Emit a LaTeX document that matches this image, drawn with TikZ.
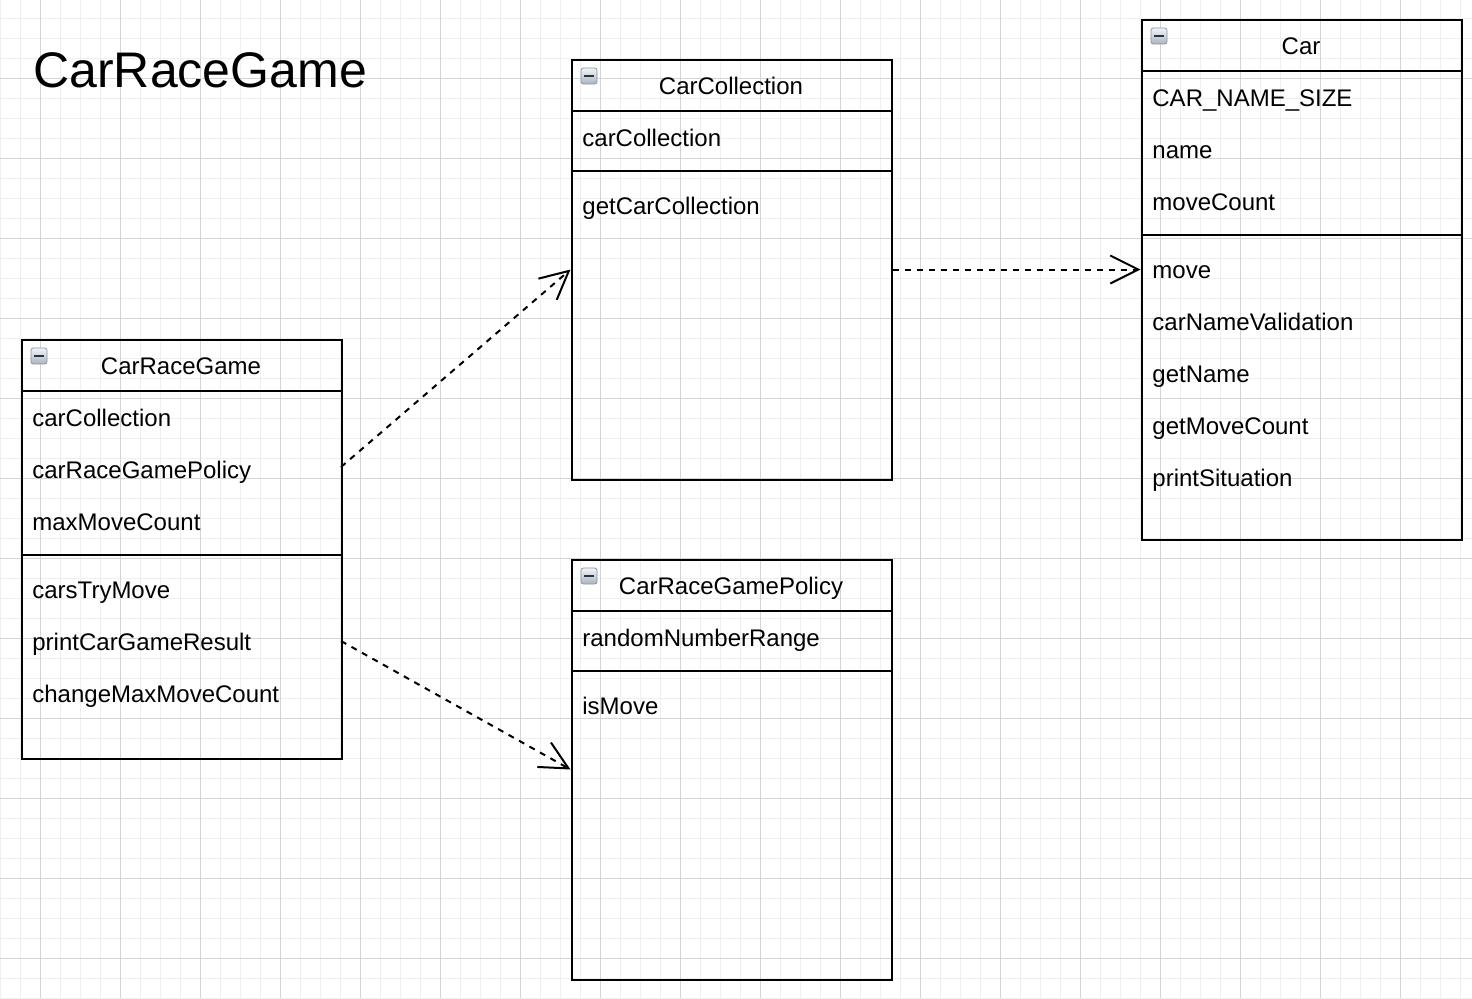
\documentclass[tikz,border=0pt]{standalone}
\usepackage{fontspec}
\setmainfont{Liberation Sans}
\usetikzlibrary{arrows.meta}
\definecolor{gridminor}{HTML}{EFEFEF}
\definecolor{gridmajor}{HTML}{D4D4D4}
\definecolor{icontop}{HTML}{F2F5F9}
\definecolor{iconbot}{HTML}{A9B4C2}
\definecolor{iconedge}{HTML}{8A95A3}
\tikzset{
  classbox/.style={draw=black, line width=1pt},
  rowtext/.style={anchor=base west, inner sep=0pt, font=\fontsize{12pt}{14pt}\selectfont},
  headtext/.style={anchor=base, inner sep=0pt, font=\fontsize{12pt}{14pt}\selectfont},
  dep/.style={draw=black, line width=1pt, dash pattern=on 3pt off 3pt, -{Straight Barb[length=14pt,width=14pt,line width=1pt]}},
}
\newcommand{\umlicon}[2]{%
  \draw[iconedge, line width=0.4pt, rounded corners=1.2pt, top color=icontop, bottom color=iconbot] (#1+10,#2+9) rectangle (#1+26,#2+25);
  \draw[black!80, line width=1.4pt] (#1+13,#2+17) -- (#1+23,#2+17);
}
\begin{document}
\begin{tikzpicture}[x=0.5pt, y=-0.5pt]
\useasboundingbox (0,0) rectangle (1472,998);
% grid
\foreach \gx in {0,20,...,1460} { \draw[gridminor, line width=0.5pt] (\gx,0) -- (\gx,998); }
\foreach \gy in {18,38,...,998} { \draw[gridminor, line width=0.5pt] (0,\gy) -- (1472,\gy); }
\foreach \gx in {40,120,...,1460} { \draw[gridmajor, line width=0.5pt] (\gx,0) -- (\gx,998); }
\foreach \gy in {78,158,...,998} { \draw[gridmajor, line width=0.5pt] (0,\gy) -- (1472,\gy); }

% title
\node[anchor=base west, inner sep=0pt, font=\fontsize{25pt}{30pt}\selectfont] (title) at (33,87) {CarRaceGame};

% CarRaceGame box
\node[classbox, anchor=north west, minimum width=160pt, minimum height=209.5pt, inner sep=0pt] (crg) at (20.5,338.5) {};
\draw[classbox] (21,391) -- (341,391);
\draw[classbox] (21,555) -- (341,555);
\umlicon{21}{339}
\node[headtext] (crgh) at (181,374) {CarRaceGame};
\node[rowtext] (crg1) at (32,426) {carCollection};
\node[rowtext] (crg2) at (32,478) {carRaceGamePolicy};
\node[rowtext] (crg3) at (32,530) {maxMoveCount};
\node[rowtext] (crg4) at (32,598) {carsTryMove};
\node[rowtext] (crg5) at (32,650) {printCarGameResult};
\node[rowtext] (crg6) at (32,702) {changeMaxMoveCount};

% CarCollection box
\node[classbox, anchor=north west, minimum width=160pt, minimum height=210pt, inner sep=0pt] (cc) at (570.5,58.5) {};
\draw[classbox] (571,111) -- (891,111);
\draw[classbox] (571,171) -- (891,171);
\umlicon{571}{59}
\node[headtext] (cch) at (731,94) {CarCollection};
\node[rowtext] (cc1) at (582,146) {carCollection};
\node[rowtext] (cc2) at (582,214) {getCarCollection};

% CarRaceGamePolicy box
\node[classbox, anchor=north west, minimum width=160pt, minimum height=210pt, inner sep=0pt] (pol) at (570.5,558.5) {};
\draw[classbox] (571,611) -- (891,611);
\draw[classbox] (571,671) -- (891,671);
\umlicon{571}{559}
\node[headtext] (polh) at (731,594) {CarRaceGamePolicy};
\node[rowtext] (pol1) at (582,646) {randomNumberRange};
\node[rowtext] (pol2) at (582,714) {isMove};

% Car box
\node[classbox, anchor=north west, minimum width=160pt, minimum height=260pt, inner sep=0pt] (car) at (1140.5,18.5) {};
\draw[classbox] (1141,71) -- (1461,71);
\draw[classbox] (1141,235) -- (1461,235);
\umlicon{1141}{19}
\node[headtext] (carh) at (1301,54) {Car};
\node[rowtext] (car1) at (1152,106) {CAR\_NAME\_SIZE};
\node[rowtext] (car2) at (1152,158) {name};
\node[rowtext] (car3) at (1152,210) {moveCount};
\node[rowtext] (car4) at (1152,278) {move};
\node[rowtext] (car5) at (1152,330) {carNameValidation};
\node[rowtext] (car6) at (1152,382) {getName};
\node[rowtext] (car7) at (1152,434) {getMoveCount};
\node[rowtext] (car8) at (1152,486) {printSituation};

% dependencies
\coordinate (a1) at (341,467);
\coordinate (a2) at (341,641);
\draw[dep] (a1) -- (cc.west);
\draw[dep] (cc.east) -- (cc.east -| car.west);
\draw[dep] (a2) -- (pol.west);
\end{tikzpicture}
\end{document}
